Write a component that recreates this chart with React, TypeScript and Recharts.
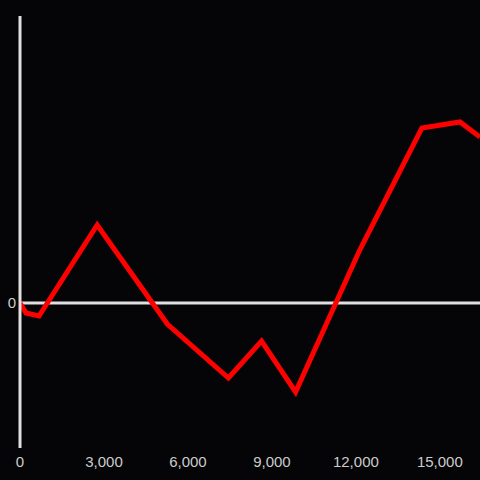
import { LineChart, Line, XAxis, YAxis, ReferenceLine } from 'recharts';

const xValues = [0, 215, 680, 2757, 5263, 7447, 8629, 9846, 12138, 14357, 15718, 16434];
const yValues = [0, -10, -13, 78, -21, -75, -38, -89, 53, 175, 181, 166];
const xTicks = [0, 3000, 6000, 9000, 12000, 15000];

const data = xValues.map((x, i) => ({ x, y: yValues[i] }));

const formatTick = (v: number) => v.toLocaleString('en-US');

const tickStyle = { fill: '#cccccc', fontSize: 15, fontFamily: '"Liberation Sans", Arial, sans-serif' };

export default function App() {
  return (
    <div style={{ position: 'absolute', left: 0, top: 0, width: 480, height: 480, background: '#050407' }}>
      <LineChart width={480} height={480} data={data} margin={{ top: 16, right: 0, left: 0, bottom: 0 }}>
        <XAxis
          dataKey="x"
          type="number"
          domain={[0, 16434]}
          ticks={xTicks}
          tickFormatter={formatTick}
          axisLine={false}
          tickLine={false}
          height={32}
          tick={tickStyle}
          interval={0}
          allowDataOverflow
        />
        <YAxis
          type="number"
          domain={[-145, 287]}
          ticks={[0]}
          width={20}
          axisLine={{ stroke: '#e0e0e0', strokeWidth: 3 }}
          tickLine={false}
          tickSize={2}
          tickMargin={2}
          tick={tickStyle}
          allowDataOverflow
        />
        <ReferenceLine y={0} stroke="#e0e0e0" strokeWidth={3} />
        <Line
          type="linear"
          dataKey="y"
          stroke="#ff0000"
          strokeWidth={5}
          dot={false}
          isAnimationActive={false}
          strokeLinejoin="miter"
        />
      </LineChart>
    </div>
  );
}
